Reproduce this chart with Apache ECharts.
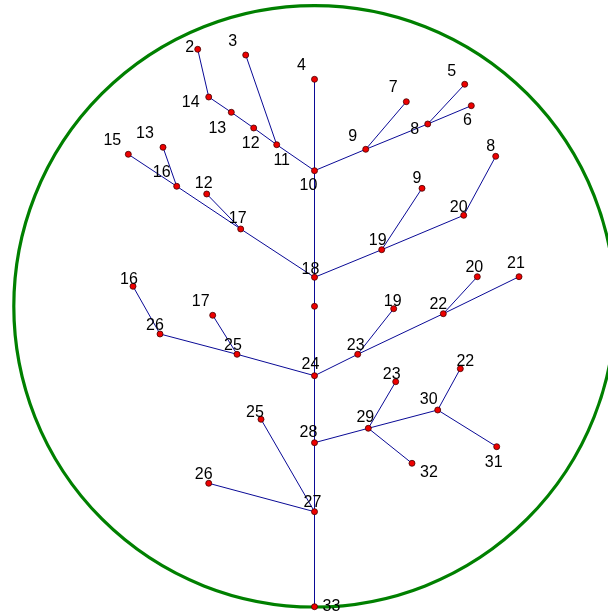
<!DOCTYPE html>
<html>
<head>
<meta charset="utf-8">
<script src="https://cdn.jsdelivr.net/npm/echarts@6/dist/echarts.min.js"></script>
<style>
html,body{margin:0;padding:0;background:#fff;}
#chart{width:608px;height:615px;}
</style>
</head>
<body>
<div id="chart"></div>
<script>
// Node labels (index order), positions in data units (circle radius = 100)
var nodeLabels = ['2','3','4','14','13','12','11','10','9','7','8','5','6','15','13','16','12','17','18','','19','20','8','9','16','26','25','17','24','23','22','21','19','20','28','27','33','29','30','22','23','32','31','25','26'];
var nodeX = [-38.84,-22.88,0,-35.18,-27.67,-20.22,-12.57,0,17.03,30.53,37.65,49.95,52.15,-61.92,-50.38,-45.83,-35.85,-24.54,0,0,22.35,49.62,60.26,35.75,-60.36,-51.38,-25.77,-33.85,0,14.37,42.83,68.01,26.34,54.14,0,0,0,17.89,40.97,48.49,27.00,32.42,60.59,-17.79,-35.18];
var nodeY = [85.47,83.57,75.49,69.60,64.52,59.30,53.74,45.10,52.21,68.04,60.63,73.83,66.71,50.55,52.88,39.91,37.35,25.71,9.64,0,18.82,30.26,49.88,39.24,6.65,-9.21,-15.96,-2.99,-23.08,-15.96,-2.46,9.84,-0.80,9.84,-45.36,-68.31,-99.90,-40.57,-34.49,-20.75,-25.07,-52.21,-46.69,-37.58,-58.86];
var edgeSource = [0,3,4,5,6,1,2,7,8,8,10,10,7,13,15,17,14,16,18,20,21,20,18,19,24,25,26,27,28,29,30,29,30,28,34,35,34,37,38,37,37,38,35,35];
var edgeTarget = [3,4,5,6,7,6,7,8,9,10,11,12,18,15,17,18,15,17,20,21,22,23,19,28,25,26,28,26,29,30,31,32,33,34,35,36,37,38,39,40,41,42,43,44];
var circleCenter = [[0,0]];

// Label placement (pixel offsets, style only)
var labelOffsets = [[-8,-2],[-13,-13],[-13,-14],[-18,6],[-14,16],[-3,16],[5,16],[-6,15],[-13,-13],[-13,-14],[-13,6],[-13,-13],[-4,15],[-16,-14],[-18,-14],[-15,-14],[-3,-10],[-3,-10],[-4,-8],[0,0],[-4,-9],[-5,-8],[-5,-10],[-5,-10],[-4,-7],[-5,-8],[-4,-9],[-12,-14],[-4,-11],[-2,-9],[-5,-9],[-3,-13],[-1,-7],[-3,-9],[-6,-10],[-2,-9],[17,0],[-3,-11],[-9,-10],[5,-7],[-4,-7],[17,9],[-3,16],[-6,-7],[-5,-9]];

var nodes = nodeX.map(function(x,i){
  return {
    name: 'n'+i,
    value: [x, nodeY[i]],
    label: {show: nodeLabels[i] !== '', offset: labelOffsets[i]}
  };
});
var links = edgeSource.map(function(s,i){ return {source: s, target: edgeTarget[i]}; });

var chart = echarts.init(document.getElementById('chart'), null, {renderer:'canvas'});
chart.setOption({
  animation: false,
  backgroundColor: '#ffffff',
  grid: {left: 13.8, top: 5.6, right: 0, height: 601.4, containLabel: false},
  xAxis: {type: 'value', min: -100, max: 97.6, show: false},
  yAxis: {type: 'value', min: -100, max: 100, show: false},
  series: [
    {
      type: 'scatter',
      data: circleCenter,
      symbol: 'circle',
      symbolSize: 601.4,
      clip: false,
      silent: true,
      itemStyle: {color: 'rgba(0,0,0,0)', borderColor: '#008000', borderWidth: 3.2, opacity: 1},
      emphasis: {disabled: true},
      z: 1
    },
    {
      type: 'graph',
      coordinateSystem: 'cartesian2d',
      layout: 'none',
      data: nodes,
      links: links,
      symbol: 'circle',
      symbolSize: 6,
      itemStyle: {color: '#ee0000', borderColor: '#440000', borderWidth: 0.8, opacity: 1},
      lineStyle: {color: '#0a0a96', width: 1, opacity: 1, curveness: 0},
      label: {
        show: true,
        position: 'inside',
        formatter: function(p){ return nodeLabels[p.dataIndex]; },
        fontFamily: 'Liberation Sans',
        fontSize: 16,
        color: '#000000'
      },
      emphasis: {disabled: true},
      z: 2
    }
  ]
});
</script>
</body>
</html>
